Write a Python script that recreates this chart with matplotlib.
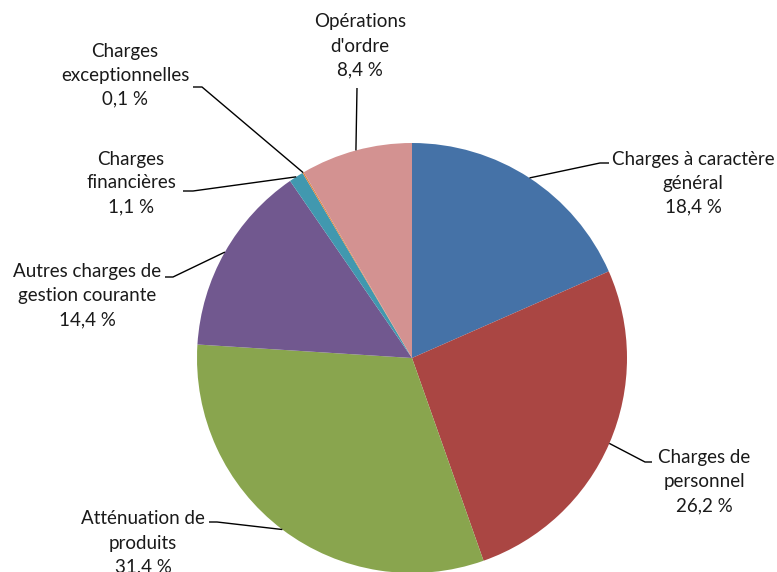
import numpy as np
import matplotlib.pyplot as plt

labels = ["Charges à caractère\ngénéral", "Charges de\npersonnel",
          "Atténuation de\nproduits", "Autres charges de\ngestion courante",
          "Charges\nfinancières", "Charges\nexceptionnelles",
          "Opérations\nd'ordre"]
values = [18.4, 26.2, 31.4, 14.4, 1.1, 0.1, 8.4]
colors = ["#4572A7", "#AA4643", "#89A54E", "#71588F",
          "#4198AF", "#DB843D", "#D39291"]

# layout in pixels (figure 777x572, pie centre (412,358), radius 215)
W, H = 777, 572
CX, CY, R = 412, 358, 215
text_pos = [(693, 183), (704, 482), (143, 543), (87, 296),
            (131, 183), (125, 75), (360, 46)]
elbows = [[(600, 163), (609, 163)], [(645, 462), (652, 462)],
          [(217, 522), (209, 522)], [(173, 277), (165, 277)],
          [(193, 191), (183, 191)], [(202, 87), (193, 87)],
          [(357, 88)]]

def px(x, y):
    return (x - CX) / R, (CY - y) / R

plt.rcParams["font.family"] = ["Lato", "DejaVu Sans"]
fig = plt.figure(figsize=(W / 100, H / 100), dpi=100)
ax = fig.add_axes([0, 0, 1, 1])

wedges, _ = ax.pie(values, colors=colors, startangle=90, counterclock=False,
                   radius=1, center=(0, 0), frame=True,
                   wedgeprops=dict(linewidth=0))
ax.set_xlim(-CX / R, (W - CX) / R)
ax.set_ylim(-(H - CY) / R, CY / R)
ax.set_aspect("equal")
ax.axis("off")

for w, lab, v, tp, el in zip(wedges, labels, values, text_pos, elbows):
    mid = np.deg2rad((w.theta1 + w.theta2) / 2)
    pts = [(np.cos(mid), np.sin(mid))] + [px(*p) for p in el]
    xs, ys = zip(*pts)
    ax.plot(xs, ys, color="black", lw=1.0, solid_capstyle="butt")
    txt = f"{lab}\n{v:.1f} %".replace(".", ",")
    ax.text(*px(*tp), txt, ha="center", va="center", multialignment="center",
            fontsize=13.5, linespacing=1.5, color="#1a1a1a")

fig.savefig("out.png", dpi=100)
